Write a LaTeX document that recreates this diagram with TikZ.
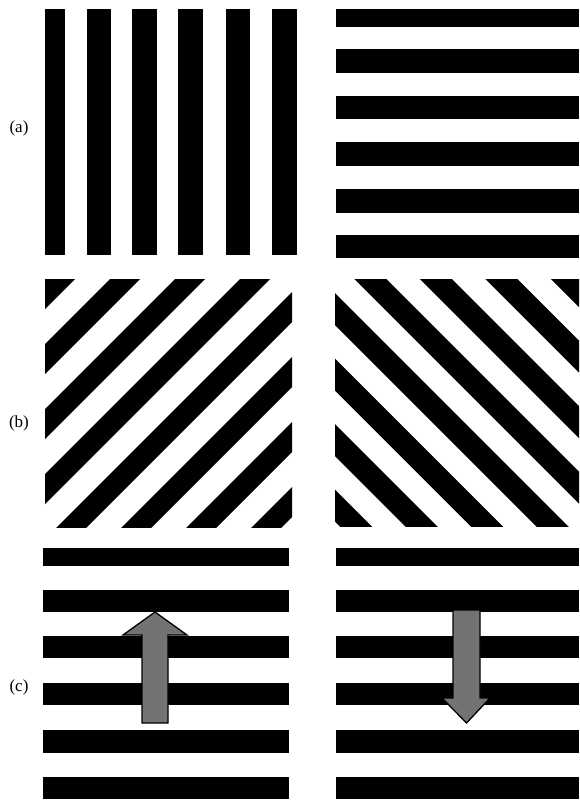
\documentclass[tikz,border=0pt]{standalone}
\usepackage{fontspec}
\setmainfont{Liberation Serif}
\begin{document}
\begin{tikzpicture}[x=1pt,y=-1pt,
  stripe/.style={fill=black},
  motion/.style={fill=black!55,draw=black,line width=1.3pt,line join=miter}]
  \useasboundingbox[fill=white] (0,0) rectangle (579,801);
  % (a) vertical and horizontal gratings
  \foreach \x/\w in {45/20,87/24,132/25,178/25,226/24,272/25}
    \fill[stripe] (\x,9) rectangle ++(\w,246);
  \foreach \y/\h in {9/18,49/24,96/23,142/24,189/24,235/23}
    \fill[stripe] (336,\y) rectangle (579,\y+\h);
  \node (la) at (19,128) {\fontsize{17}{20}\selectfont (a)};
  % (b) oblique gratings
  \begin{scope}
    \clip (45,279) rectangle (292,527);
    \foreach \k in {0,...,7}
      \fill[stripe] (324+65*\k-200,200) -- (354+65*\k-200,200)
        -- (354+65*\k-600,600) -- (324+65*\k-600,600) -- cycle;
  \end{scope}
  \begin{scope}
    \clip (335,279) rectangle (579,526);
    \foreach \k in {-3,...,4}
      \fill[stripe] (10+65.5*\k+200,200) -- (42+65.5*\k+200,200)
        -- (42+65.5*\k+600,600) -- (10+65.5*\k+600,600) -- cycle;
  \end{scope}
  \node (lb) at (19,423) {\fontsize{17}{20}\selectfont (b)};
  % (c) horizontal gratings with motion
  \foreach \y/\h in {548/18,590/22,636/22,683/22,730/23,777/22} {
    \fill[stripe] (43,\y) rectangle (289,\y+\h);
    \fill[stripe] (336,\y) rectangle (579,\y+\h);
  }
  \draw[motion] (142,723) -- (142,635) -- (123,635) -- (155,612)
    -- (187,635) -- (168,635) -- (168,723) -- cycle;
  \draw[motion] (453,610) -- (453,698) -- (442,698) -- (466.5,723)
    -- (490,698) -- (480,698) -- (480,610) -- cycle;
  \node (lc) at (19,687) {\fontsize{17}{20}\selectfont (c)};
\end{tikzpicture}
\end{document}
